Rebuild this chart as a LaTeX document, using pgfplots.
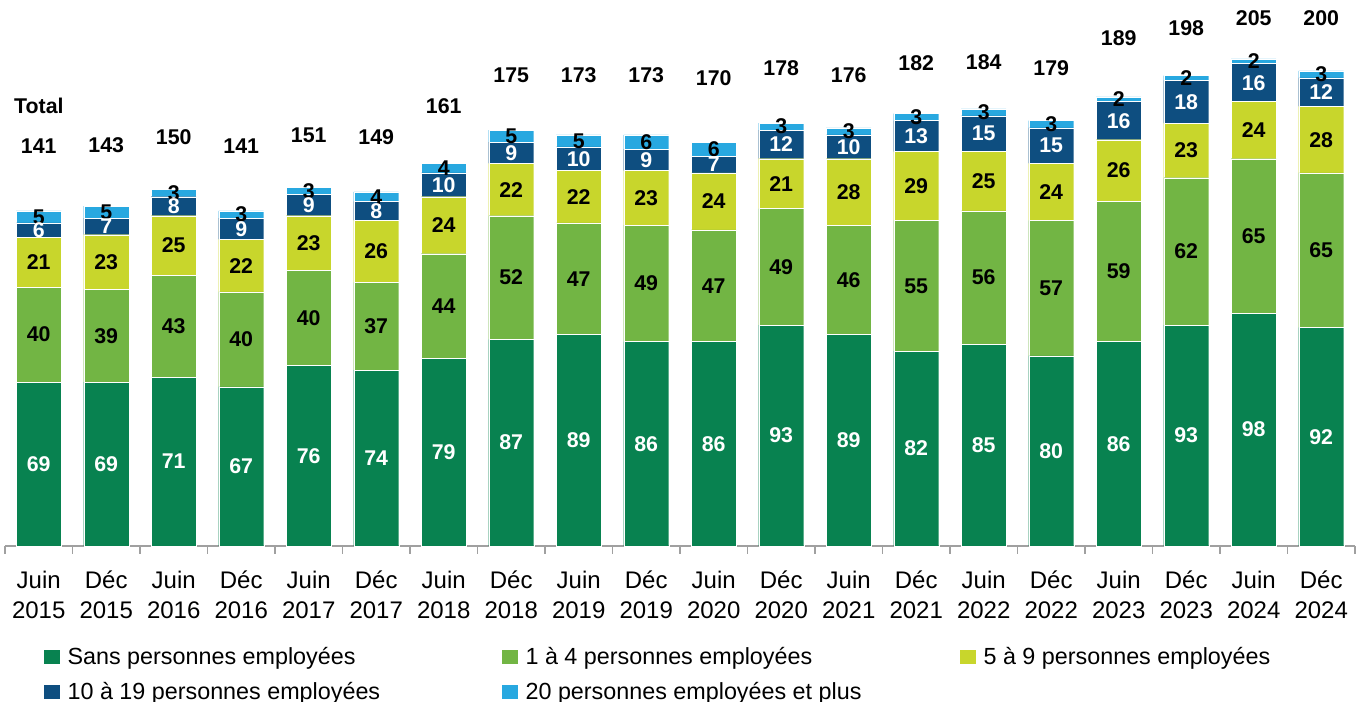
\documentclass[border=0pt]{standalone}
\usepackage{fontspec}
\setmainfont{Liberation Sans}
\usepackage{pgfplots}
\pgfplotsset{compat=1.18}
\usepackage{pgfplotstable}

\definecolor{cA}{RGB}{8,130,80}
\definecolor{cB}{RGB}{114,181,68}
\definecolor{cC}{RGB}{200,214,44}
\definecolor{cD}{RGB}{14,78,128}
\definecolor{cE}{RGB}{40,168,224}
\definecolor{axgray}{RGB}{160,160,160}

\pgfplotstableread{
x  a  b  c  d  e  tot lab
0  69 40 21 6  5  141 168.4
1  69 39 23 7  5  143 168.8
2  71 43 25 8  3  150 172.1
3  67 40 22 9  3  141 168.4
4  76 40 23 9  3  151 173.0
5  74 37 26 8  4  149 172.1
6  79 44 24 10 4  161 185.2
7  87 52 22 9  5  175 198.2
8  89 47 22 10 5  173 198.2
9  86 49 23 9  6  173 198.2
10 86 47 24 7  6  170 197.0
11 93 49 21 12 3  178 201.2
12 89 46 28 10 3  176 198.2
13 82 55 29 13 3  182 203.3
14 85 56 25 15 3  184 203.7
15 80 57 24 15 3  179 201.2
16 86 59 26 16 2  189 213.8
17 93 62 23 18 2  198 218.0
18 98 65 24 16 2  205 222.2
19 92 65 28 12 3  200 222.2
}\data

\pgfplotsset{
  seglab/.style={
    nodes near coords={\pgfmathprintnumber[assume math mode=true]{\pgfplotspointmeta}},
    point meta=explicit,
    every node near coord/.append style={
      font=\fontsize{16}{16}\selectfont\bfseries,
      text=#1, anchor=center, inner sep=0pt},
  },
  sqleg/.style={legend image code/.code={\fill[##1,draw=none] (0pt,-5.25pt) rectangle (11.5pt,5.25pt);}},
}

\begin{document}
\begin{tikzpicture}
\useasboundingbox (-3.75pt,-117pt) rectangle (1015.5pt,409.5pt);
\begin{axis}[
  at={(0,0)}, anchor=south west,
  scale only axis, width=1012.5pt, height=409.5pt,
  xmin=-0.5, xmax=19.5, ymin=0, ymax=229.8,
  /pgf/number format/assume math mode=true,
  ybar stacked, bar width=33.75pt,
  axis x line*=bottom, axis y line=none,
  xtick={0,...,19},
  xticklabels={{Juin\\2015},{Déc\\2015},{Juin\\2016},{Déc\\2016},{Juin\\2017},{Déc\\2017},{Juin\\2018},{Déc\\2018},{Juin\\2019},{Déc\\2019},{Juin\\2020},{Déc\\2020},{Juin\\2021},{Déc\\2021},{Juin\\2022},{Déc\\2022},{Juin\\2023},{Déc\\2023},{Juin\\2024},{Déc\\2024}},
  major tick length=0pt,
  minor xtick={-0.5,0.5,...,19.5},
  minor tick length=6pt,
  tick align=outside,
  x axis line style={draw=axgray, line width=1.1pt},
  minor x tick style={draw=axgray, line width=1.1pt},
  xticklabel style={font=\fontsize{18}{22.5}\selectfont, align=center, text=black, inner sep=0pt, yshift=-18.5pt},
  legend columns=3,
  legend style={draw=none, fill=none, at={(0,0)}, anchor=north west, xshift=29.25pt, yshift=-74pt,
    font=\fontsize{17.5}{17.5}\selectfont, inner sep=0pt, row sep=7.5pt,
    /tikz/every odd column/.append style={column sep=4pt},
    /tikz/every even column/.append style={column sep=0pt}},
  legend cell align=left,
  clip=false,
]
\addplot[fill=cA, draw=white, line width=0.3pt, sqleg, seglab=white] table[x=x,y=a,meta=a]{\data};
\addlegendentry{\makebox[324pt][l]{Sans personnes employées}}
\addplot[fill=cB, draw=white, line width=0.3pt, sqleg, seglab=black] table[x=x,y=b,meta=b]{\data};
\addlegendentry{\makebox[324pt][l]{1 à 4 personnes employées}}
\addplot[fill=cC, draw=white, line width=0.3pt, sqleg, seglab=black] table[x=x,y=c,meta=c]{\data};
\addlegendentry{\makebox[324pt][l]{5 à 9 personnes employées}}
\addplot[fill=cD, draw=white, line width=0.3pt, sqleg, seglab=white] table[x=x,y=d,meta=d]{\data};
\addlegendentry{\makebox[324pt][l]{10 à 19 personnes employées}}
\addplot[fill=cE, draw=white, line width=0.3pt, sqleg, seglab=black] table[x=x,y=e,meta=e]{\data};
\addlegendentry{\makebox[324pt][l]{20 personnes employées et plus}}
\end{axis}
\begin{axis}[
  at={(0,0)}, anchor=south west,
  scale only axis, width=1012.5pt, height=409.5pt,
  xmin=-0.5, xmax=19.5, ymin=0, ymax=229.8,
  hide axis, clip=false,
]
\addplot[draw=none, mark=none, nodes near coords={\pgfmathprintnumber[assume math mode=true]{\pgfplotspointmeta}}, point meta=explicit,
  every node near coord/.append style={font=\fontsize{16}{16}\selectfont\bfseries, anchor=center, inner sep=0pt}]
  table[x=x,y=lab,meta=tot]{\data};
\node[font=\fontsize{16}{16}\selectfont\bfseries, anchor=west, inner sep=0pt] at (axis cs:-0.367,185.2) {Total};
\end{axis}
\end{tikzpicture}
\end{document}
